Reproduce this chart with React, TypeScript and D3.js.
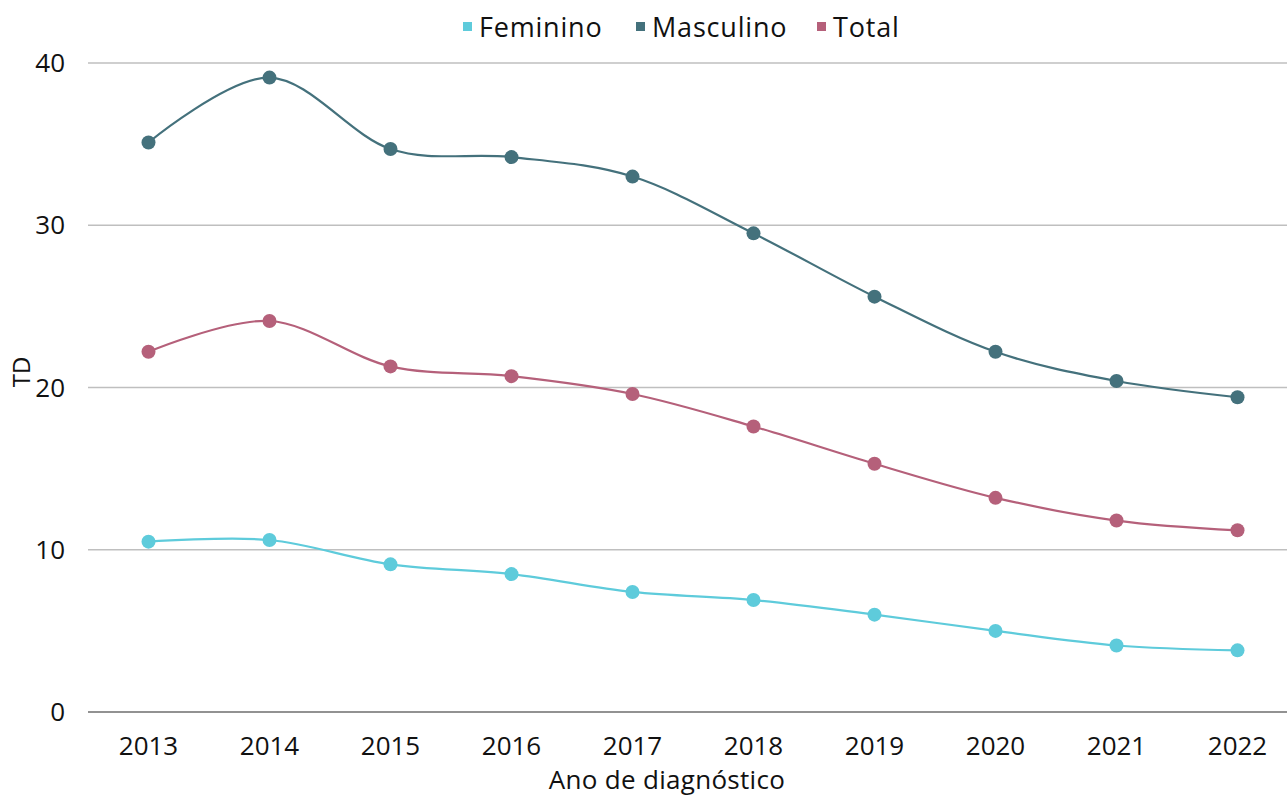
import React from "react";
import * as d3 from "d3";

const years = ["2013", "2014", "2015", "2016", "2017", "2018", "2019", "2020", "2021", "2022"];
const feminino = [10.5, 10.6, 9.1, 8.5, 7.4, 6.9, 6.0, 5.0, 4.1, 3.8];
const masculino = [35.1, 39.1, 34.7, 34.2, 33.0, 29.5, 25.6, 22.2, 20.4, 19.4];
const total = [22.2, 24.1, 21.3, 20.7, 19.6, 17.6, 15.3, 13.2, 11.8, 11.2];
const yTicks = [0, 10, 20, 30, 40];

const seriesNames = ["Feminino", "Masculino", "Total"];
const seriesColors = ["#5ecbdb", "#44717c", "#b5607a"];

const width = 1287;
const height = 798;
const font = "'Open Sans', sans-serif";

export default function App() {
  const x = d3.scalePoint<string>().domain(years).range([88, 1298]).padding(0.5);
  const y = d3.scaleLinear().domain([0, 40]).range([712, 63]);

  const line = d3
    .line<number>()
    .x((_, i) => x(years[i]) as number)
    .y(d => y(d))
    .curve(d3.curveCardinal.tension(0));

  const series = [feminino, masculino, total];

  // legend layout
  const legendX = [463, 636, 817];

  return (
    <svg
      width={width}
      height={height}
      style={{ position: "absolute", left: 0, top: 0, background: "#fff" }}
      fontFamily={font}
    >
      {/* gridlines */}
      {yTicks.map(t => (
        <line
          key={t}
          x1={88}
          x2={width}
          y1={y(t)}
          y2={y(t)}
          stroke={t === 0 ? "#6e6e6e" : "#bfbfbf"}
          strokeWidth={1.3}
        />
      ))}
      {yTicks.map(t => (
        <text key={"l" + t} x={65} y={y(t)} dy="0.35em" textAnchor="end" fontSize={26} fill="#111">
          {t}
        </text>
      ))}
      {years.map(yr => (
        <text key={yr} x={x(yr)} y={755} textAnchor="middle" fontSize={26} fill="#111">
          {yr}
        </text>
      ))}
      <text x={667} y={789} textAnchor="middle" fontSize={26} fill="#111" letterSpacing={0.3}>
        Ano de diagnóstico
      </text>
      <text
        transform={`translate(30, 372) rotate(-90)`}
        textAnchor="middle"
        fontSize={24}
        fill="#111"
      >
        TD
      </text>

      {series.map((s, i) => (
        <g key={seriesNames[i]}>
          <path d={line(s) ?? ""} fill="none" stroke={seriesColors[i]} strokeWidth={2.2} />
          {s.map((v, j) => (
            <circle key={j} cx={x(years[j])} cy={y(v)} r={7} fill={seriesColors[i]} />
          ))}
        </g>
      ))}

      {/* legend */}
      {seriesNames.map((n, i) => (
        <g key={n} transform={`translate(${legendX[i]}, 0)`}>
          <rect x={0} y={22} width={9} height={9} fill={seriesColors[i]} />
          <text x={16} y={37} fontSize={27} fill="#111" letterSpacing={0.8}>
            {n}
          </text>
        </g>
      ))}
    </svg>
  );
}
